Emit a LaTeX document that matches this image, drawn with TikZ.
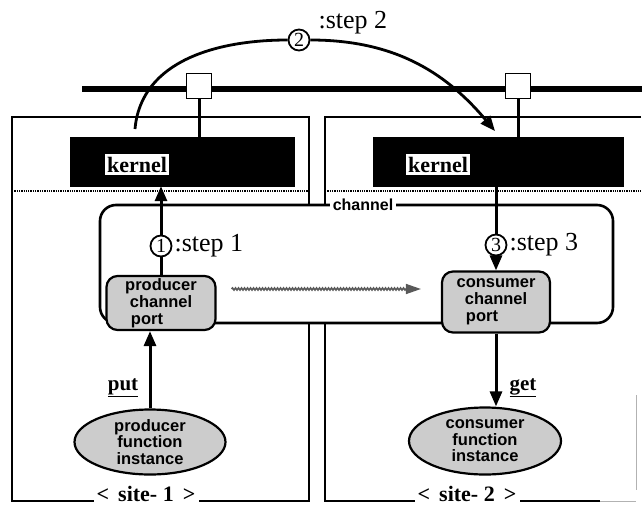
\documentclass[tikz,border=0pt]{standalone}
\usepackage{fontspec}
\setmainfont{Liberation Serif}
\setsansfont{Liberation Sans}
\usetikzlibrary{positioning,arrows.meta,shapes.geometric,decorations.pathmorphing}

\begin{document}
\begin{tikzpicture}[x=1pt,y=-1pt,
  >={Triangle[length=15pt,width=12pt]},
  site/.style={line width=2.2pt},
  sq/.style={draw,fill=white,line width=1.8pt,minimum size=25pt,inner sep=0pt},
  kern/.style={fill=black,draw=black,minimum height=49pt,inner sep=0pt},
  klbl/.style={fill=white,inner xsep=2pt,inner ysep=3pt,font=\bfseries\fontsize{22}{22}\selectfont},
  chan/.style={draw,fill=white,line width=2.6pt,rounded corners=16pt,minimum width=513pt,minimum height=118pt},
  chlbl/.style={fill=white,inner sep=3pt,font=\sffamily\bfseries\fontsize{16}{16}\selectfont},
  port/.style={draw,line width=2.2pt,rounded corners=11pt,fill=black!20,align=center,inner sep=0pt,
    font=\sffamily\bfseries\fontsize{16.5}{17}\selectfont},
  fun/.style={draw,ellipse,line width=2.2pt,fill=black!20,align=center,inner sep=-3pt,
    font=\sffamily\bfseries\fontsize{16.5}{16.5}\selectfont},
  num/.style={circle,draw,fill=white,line width=1.8pt,inner sep=0pt,minimum size=21pt,font=\fontsize{20}{20}\selectfont},
  steplbl/.style={inner sep=2pt,font=\fontsize{26}{26}\selectfont},
  oplbl/.style={inner sep=1pt,font=\bfseries\fontsize{21}{21}\selectfont},
  sitelbl/.style={fill=white,inner sep=3pt,font=\bfseries\fontsize{22}{22}\selectfont},
  arr/.style={->,line width=3pt},
  wave/.style={draw=black!65,line width=1.6pt,decorate,
    decoration={snake,amplitude=1pt,segment length=3pt,post length=14pt},
    -{Triangle[length=15pt,width=10pt]}}
]
\useasboundingbox (0,0) rectangle (642,506);

% the two sites
\draw[site] (12,117) rectangle (309,501);
\draw[site] (641,117) -- (325,117) -- (325,501) -- (600,501);
\draw[black!30,line width=1pt] (600,501) -- (636,501) (636,395) -- (636,490);
\draw[densely dotted,line width=1.3pt] (12,191) -- (309,191) (325,191) -- (641,191);
\node[sitelbl,anchor=base] (s1) at (146,501) {<\, site- 1\, >};
\node[sitelbl,anchor=base] (s2) at (467,501) {<\, site- 2\, >};

% network bus
\coordinate (busL) at (82,89);
\coordinate (busR) at (642,89);
\draw[line width=5.5pt] (busL) -- (busR);
\node[sq] (sq1) at (199,86) {};
\node[sq] (sq2) at (518,86) {};

% kernels
\node[kern,minimum width=224pt] (kern1) at (182,161.5) {};
\node[kern,minimum width=250pt] (kern2) at (498,161.5) {};
\node[klbl] (kl1) at (137,164.5) {kernel};
\node[klbl] (kl2) at (438,164.5) {kernel};
\draw[line width=3pt] (sq1.south) -- (sq1.south |- kern1.north);
\draw[line width=3pt] (sq2.south) -- (sq2.south |- kern2.north);

% step 2 over the bus
\coordinate (a2s) at (135,129);
\coordinate (a2e) at (495,131);
\node[num] (n2) at (299,40) {2};
\draw[arr,line width=2.8pt] (a2s) to[out=85,in=180] (n2) to[out=0,in=130] (a2e);
\node[steplbl,anchor=west] (t2) at ([xshift=6pt,yshift=17pt]n2.east) {:step 2};

% channel
\node[chan] (chan) at (356.5,264) {};
\node[chlbl] (chl) at (363,205) {channel};
\node[port,minimum width=109pt,minimum height=54pt] (pport) at (161,303)
  {producer\\channel\\port\hspace*{28pt}};
\node[port,minimum width=108pt,minimum height=61pt] (cport) at (496,302)
  {consumer\\channel\\port\hspace*{28pt}};
\draw[wave] ([xshift=15pt,yshift=14pt]pport.east) -- ([xshift=-20pt,yshift=13pt]cport.west);

% step 1 and step 3
\draw[arr] (pport.north) -- (pport.north |- kern1.south);
\node[num] (n1) at (161,246) {1};
\node[steplbl,anchor=west] (t1) at (n1.east) {:step 1};
\draw[arr] (kern2.south -| cport.north) -- (cport.north);
\node[num] (n3) at (496,245) {3};
\node[steplbl,anchor=west] (t3) at (n3.east) {:step 3};

% function instances
\node[fun,minimum width=151pt,minimum height=65pt] (pfun) at (150,442) {producer\\function\\instance};
\node[fun,minimum width=152pt,minimum height=67pt] (cfun) at (485,441) {consumer\\function\\instance};
\draw[arr] (pfun.north) -- (pfun.north |- pport.south);
\draw[arr] (cport.south) -- (cport.south |- cfun.north);
\node[oplbl] (put) at (123,388) {\underline{put}};
\node[oplbl] (get) at (523,388) {\underline{get}};
\end{tikzpicture}
\end{document}
